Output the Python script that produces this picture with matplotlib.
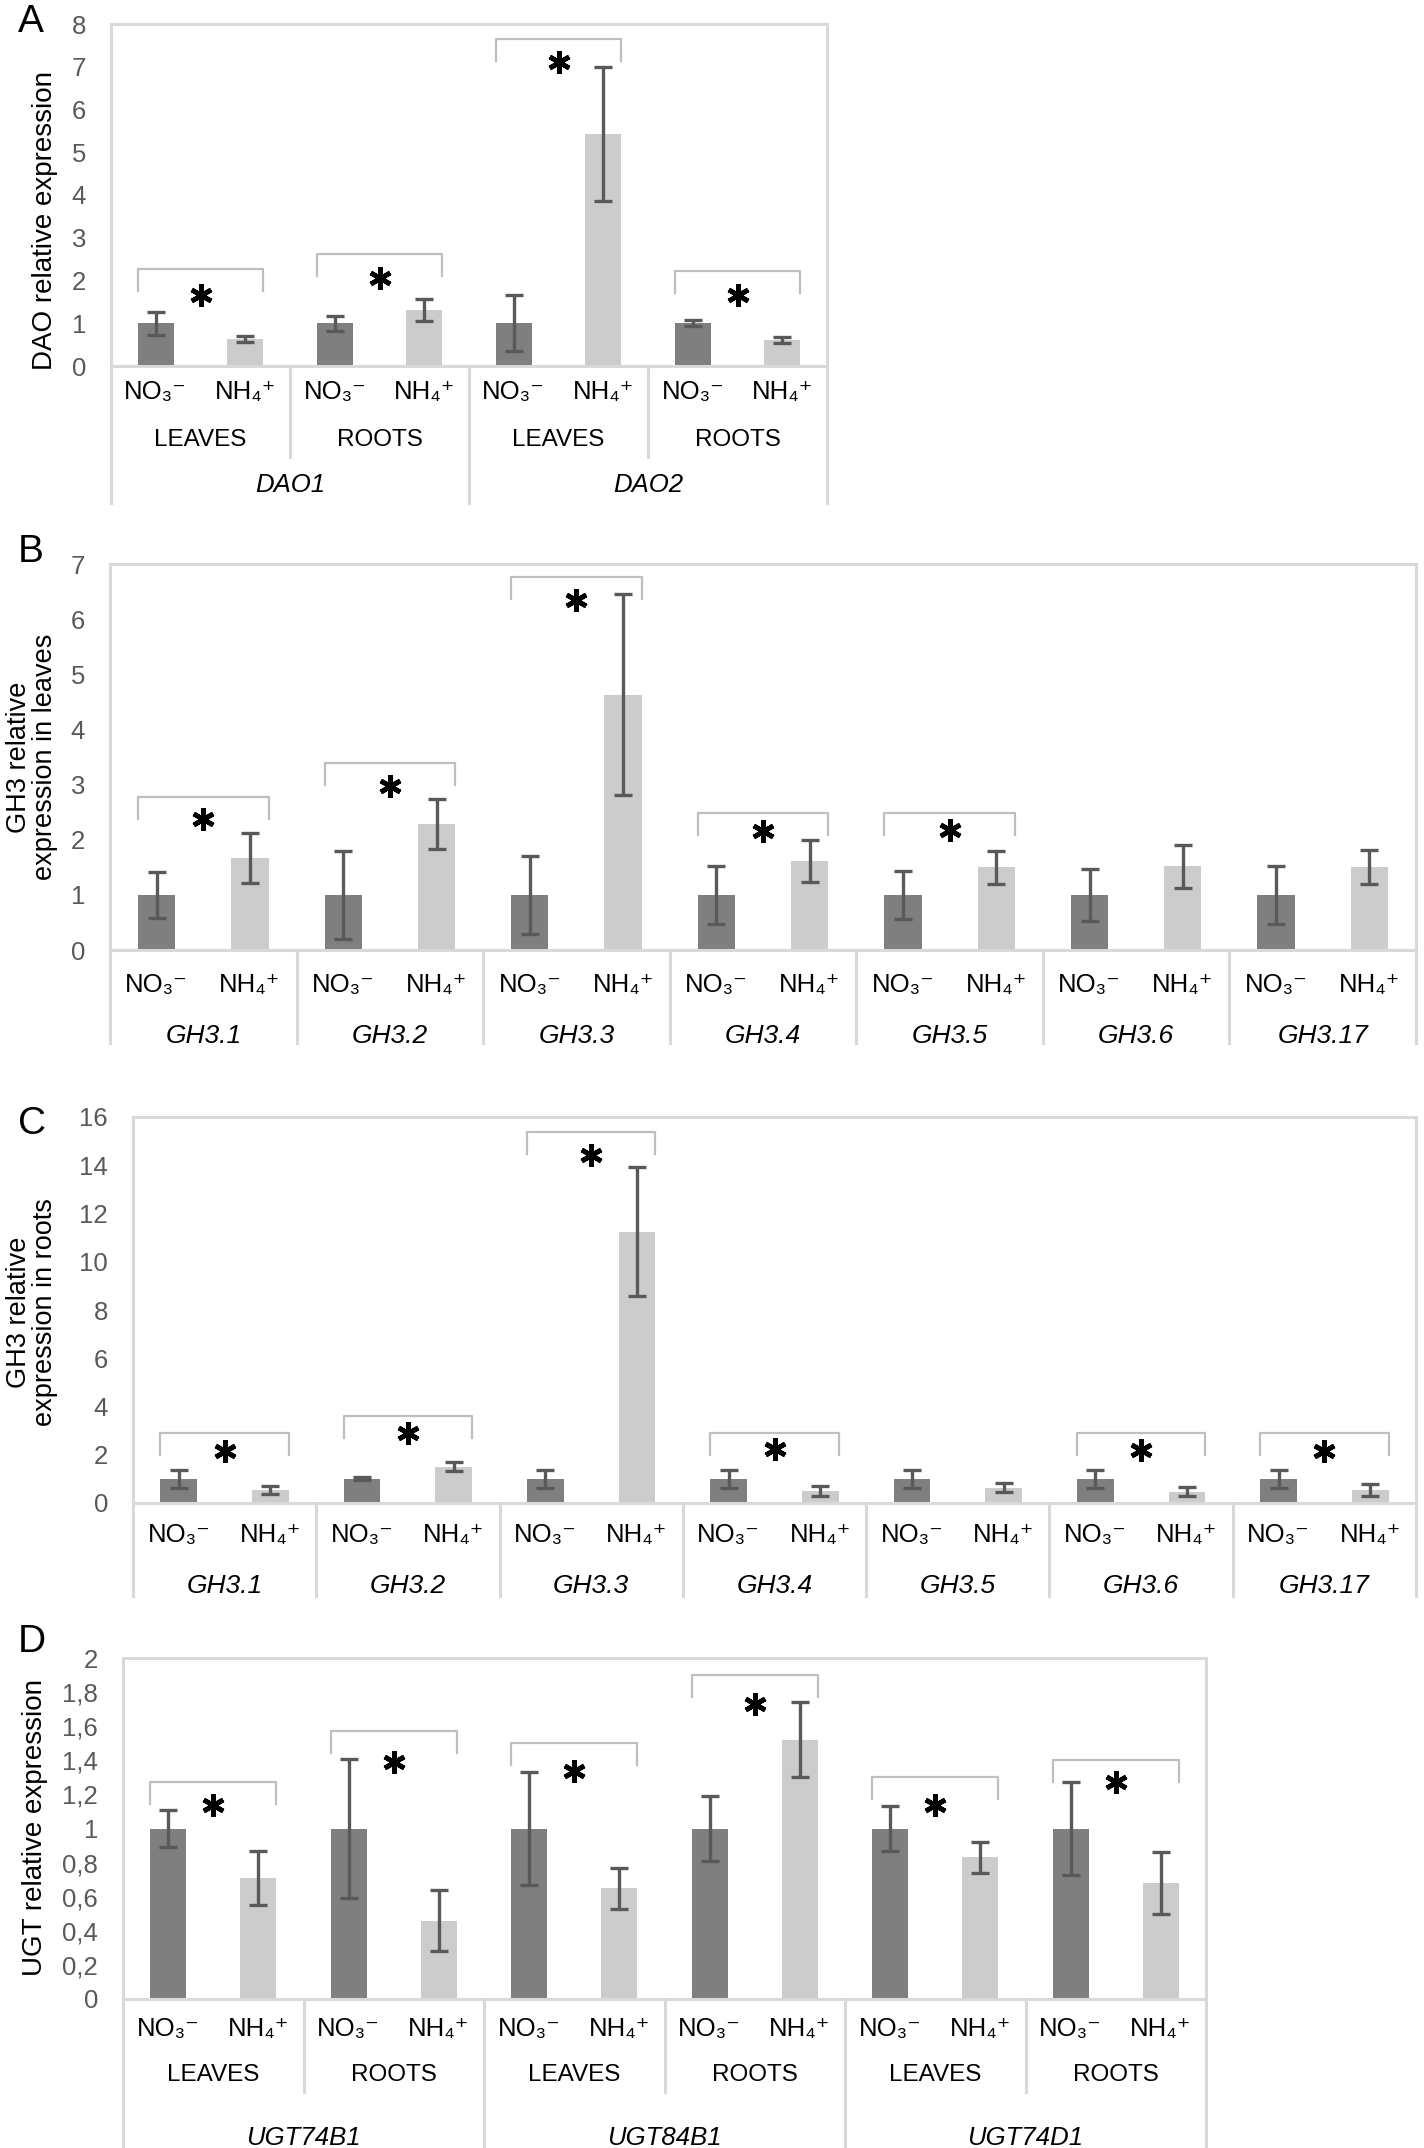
import matplotlib
matplotlib.use("Agg")
import matplotlib.pyplot as plt
from matplotlib.lines import Line2D
from matplotlib.transforms import blended_transform_factory

plt.rcParams['font.family'] = ['Liberation Sans', 'DejaVu Sans']
plt.rcParams['mathtext.default'] = 'regular'

W, H = 1424, 2148
DPI = 100

NO3 = "NO\u2083\u207b"
NH4 = "NH\u2084\u207a"

# A - DAO
dao_genes = ["DAO1", "DAO2"]
dao_tissues = ["LEAVES", "ROOTS", "LEAVES", "ROOTS"]
dao_no3 = [1.0, 1.0, 1.0, 1.0]
dao_no3_err = [0.27, 0.17, 0.65, 0.07]
dao_nh4 = [0.63, 1.31, 5.43, 0.61]
dao_nh4_err = [0.08, 0.25, 1.56, 0.07]
dao_bracket = [2.27, 2.63, 7.64, 2.23]
dao_star = [1.66, 2.05, 7.11, 1.65]

# B - GH3 leaves
gh3_genes = ["GH3.1", "GH3.2", "GH3.3", "GH3.4", "GH3.5", "GH3.6", "GH3.17"]
leaf_no3 = [1.0, 1.0, 1.0, 1.0, 1.0, 1.0, 1.0]
leaf_no3_err = [0.42, 0.80, 0.71, 0.53, 0.44, 0.47, 0.52]
leaf_nh4 = [1.67, 2.28, 4.63, 1.62, 1.50, 1.52, 1.50]
leaf_nh4_err = [0.45, 0.45, 1.82, 0.38, 0.30, 0.39, 0.31]
leaf_bracket = [2.78, 3.40, 6.76, 2.49, 2.49, None, None]
leaf_star = [2.38, 2.98, 6.35, 2.16, 2.18, None, None]

# C - GH3 roots
root_no3 = [1.0, 1.0, 1.0, 1.0, 1.0, 1.0, 1.0]
root_no3_err = [0.37, 0.06, 0.38, 0.37, 0.36, 0.37, 0.36]
root_nh4 = [0.55, 1.50, 11.24, 0.50, 0.63, 0.47, 0.54]
root_nh4_err = [0.17, 0.18, 2.67, 0.22, 0.18, 0.20, 0.26]
root_bracket = [2.9, 3.61, 15.38, 2.9, None, 2.9, 2.9]
root_star = [2.14, 2.91, 14.42, 2.25, None, 2.2, 2.14]

# D - UGT
ugt_genes = ["UGT74B1", "UGT84B1", "UGT74D1"]
ugt_tissues = ["LEAVES", "ROOTS", "LEAVES", "ROOTS", "LEAVES", "ROOTS"]
ugt_no3 = [1.0, 1.0, 1.0, 1.0, 1.0, 1.0]
ugt_no3_err = [0.11, 0.41, 0.33, 0.19, 0.13, 0.27]
ugt_nh4 = [0.71, 0.46, 0.65, 1.52, 0.83, 0.68]
ugt_nh4_err = [0.16, 0.18, 0.12, 0.22, 0.09, 0.18]
ugt_bracket = [1.27, 1.57, 1.50, 1.90, 1.30, 1.40]
ugt_star = [1.14, 1.39, 1.34, 1.73, 1.14, 1.27]

DARK = "#7f7f7f"
LIGHT = "#cccccc"
ERR = "#595959"
FRAME = "#d9d9d9"
BRACKET = "#bfbfbf"
TICK = "#595959"

fig = plt.figure(figsize=(W / DPI, H / DPI), dpi=DPI)


def fy(py):
    return 1 - py / H


def make_axes(left, right, top, zero):
    return fig.add_axes([left / W, 1 - zero / H, (right - left) / W, (zero - top) / H])


def panel(ax, no3, no3_err, nh4, nh4_err, ymax, yticks, yticklabels,
          brackets, stars, layout):
    n = len(no3)
    xs_no3 = [2 * i for i in range(n)]
    xs_nh4 = [2 * i + 1 for i in range(n)]
    ekw = dict(ecolor=ERR, elinewidth=2.4, capsize=6.5, capthick=2.4)
    ax.bar(xs_no3, no3, width=0.4, color=DARK, yerr=no3_err, error_kw=ekw, zorder=2)
    ax.bar(xs_nh4, nh4, width=0.4, color=LIGHT, yerr=nh4_err, error_kw=ekw, zorder=2)
    ax.set_xlim(-0.5, 2 * n - 0.5)
    ax.set_ylim(0, ymax)
    ax.set_xticks([])
    ax.set_yticks(yticks)
    ax.set_yticklabels(yticklabels)
    ax.tick_params(axis='y', length=0, pad=18, labelsize=18.5, labelcolor=TICK)
    for s in ax.spines.values():
        s.set_visible(False)

    tr = blended_transform_factory(ax.transData, fig.transFigure)
    ax.axhline(ymax, color=FRAME, lw=2.2, clip_on=False, zorder=1)
    ax.axhline(0, color=FRAME, lw=2.2, clip_on=False, zorder=3)

    def vline(x, y0, y1):
        fig.add_artist(Line2D([x, x], [fy(y0), fy(y1)], transform=tr,
                              color=FRAME, lw=2.2))

    top_px = layout['top']
    zero_px = layout['zero']
    bottom = layout['bottom']
    vline(-0.5, top_px, bottom)
    vline(2 * n - 0.5, top_px, bottom)

    # brackets and asterisks
    pix = (zero_px - top_px) / ymax
    leg = 22 / pix
    for i in range(n):
        b = brackets[i]
        if b is None:
            continue
        x0 = 2 * i - 0.2
        x1 = 2 * i + 1.2
        ax.plot([x0, x0, x1, x1], [b - leg, b, b, b - leg], color=BRACKET,
                lw=1.6, clip_on=False, zorder=2)
        ax.plot([2 * i + 0.5], [stars[i]], marker=(6, 2, 0), markersize=16,
                markeredgewidth=3.4, color="black", clip_on=False, zorder=4)

    # category labels
    for i in range(n):
        fig.text(2 * i, fy(layout['ion_y']), NO3, transform=tr, ha='center',
                 va='center', fontsize=18.5)
        fig.text(2 * i + 1, fy(layout['ion_y']), NH4, transform=tr, ha='center',
                 va='center', fontsize=18.5)

    if layout.get('tissues'):
        tissues = layout['tissues']
        genes = layout['genes']
        for i, t in enumerate(tissues):
            fig.text(2 * i + 0.5, fy(layout['tissue_y']), t, transform=tr,
                     ha='center', va='center', fontsize=17.5)
        per = len(tissues) // len(genes)
        for g, name in enumerate(genes):
            xc = 2 * per * g + per - 0.5
            fig.text(xc, fy(layout['gene_y']), name, transform=tr, ha='center',
                     va='center', fontsize=18.5, style='italic')
        for i in range(1, len(tissues)):
            if i % per == 0:
                vline(2 * i - 0.5, zero_px, bottom)
            else:
                vline(2 * i - 0.5, zero_px, layout['sub_bottom'])
    else:
        for g, name in enumerate(layout['genes']):
            fig.text(2 * g + 0.5, fy(layout['gene_y']), name, transform=tr,
                     ha='center', va='center', fontsize=19, style='italic')
        for i in range(1, n):
            vline(2 * i - 0.5, zero_px, bottom)


# Panel A
A = dict(top=24, zero=366, bottom=503, ion_y=392, tissue_y=440, gene_y=485,
         sub_bottom=457, tissues=dao_tissues, genes=dao_genes)
axA = make_axes(111, 827, A['top'], A['zero'])
panel(axA, dao_no3, dao_no3_err, dao_nh4, dao_nh4_err, 8,
      range(0, 9), [str(v) for v in range(0, 9)], dao_bracket, dao_star, A)

# Panel B
B = dict(top=564, zero=950, bottom=1043, ion_y=985, gene_y=1036, genes=gh3_genes)
axB = make_axes(110, 1416, B['top'], B['zero'])
panel(axB, leaf_no3, leaf_no3_err, leaf_nh4, leaf_nh4_err, 7,
      range(0, 8), [str(v) for v in range(0, 8)], leaf_bracket, leaf_star, B)

# Panel C
C = dict(top=1117, zero=1503, bottom=1596, ion_y=1535, gene_y=1586, genes=gh3_genes)
axC = make_axes(133, 1416, C['top'], C['zero'])
panel(axC, root_no3, root_no3_err, root_nh4, root_nh4_err, 16,
      range(0, 17, 2), [str(v) for v in range(0, 17, 2)], root_bracket, root_star, C)

# Panel D
D = dict(top=1658, zero=1999, bottom=2148, ion_y=2029, tissue_y=2075, gene_y=2138,
         sub_bottom=2092, tissues=ugt_tissues, genes=ugt_genes)
axD = make_axes(123, 1206, D['top'], D['zero'])
dticks = [0, 0.2, 0.4, 0.6, 0.8, 1.0, 1.2, 1.4, 1.6, 1.8, 2.0]
dlabels = ["0", "0,2", "0,4", "0,6", "0,8", "1", "1,2", "1,4", "1,6", "1,8", "2"]
panel(axD, ugt_no3, ugt_no3_err, ugt_nh4, ugt_nh4_err, 2,
      dticks, dlabels, ugt_bracket, ugt_star, D)

# y labels
fig.text(45 / W, fy(220), "DAO relative expression", rotation=90, ha='center',
         va='center', fontsize=20)
fig.text(32 / W, fy(757), "GH3 relative\nexpression in leaves", rotation=90,
         ha='center', va='center', fontsize=19.5, linespacing=1.0)
fig.text(32 / W, fy(1312), "GH3 relative\nexpression in roots", rotation=90,
         ha='center', va='center', fontsize=19.5, linespacing=1.0)
fig.text(35 / W, fy(1828), "UGT relative expression", rotation=90, ha='center',
         va='center', fontsize=20)

# panel letters
for letter, bot in [("A", 32), ("B", 562), ("C", 1134), ("D", 1652)]:
    fig.text(18 / W, fy(bot), letter, ha='left', va='baseline', fontsize=28)

fig.savefig("out.png", dpi=DPI, facecolor="white")
